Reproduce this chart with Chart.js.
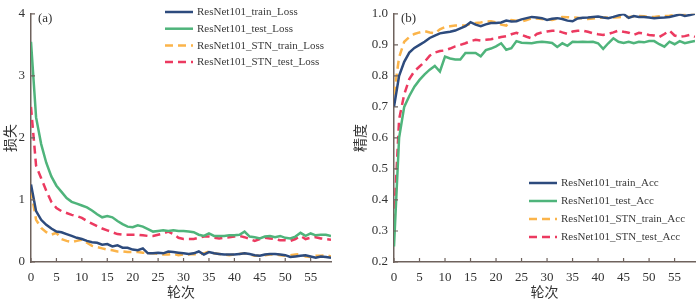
<!DOCTYPE html>
<html>
<head>
<meta charset="utf-8">
<script src="https://cdn.jsdelivr.net/npm/chart.js@4.4.1/dist/chart.umd.min.js"></script>
<style>
body { margin: 0; background: #fff; }
#wrap { position: relative; width: 700px; height: 299px; }
canvas { position: absolute; top: 0; }
</style>
</head>
<body>
<div id="wrap">
  <canvas id="lossChart" width="350" height="299" style="left:0"></canvas>
  <canvas id="accChart" width="350" height="299" style="left:350px"></canvas>
</div>
<script>
var epochs = [0,1,2,3,4,5,6,7,8,9,10,11,12,13,14,15,16,17,18,19,20,21,22,23,24,25,26,27,28,29,
  30,31,32,33,34,35,36,37,38,39,40,41,42,43,44,45,46,47,48,49,50,51,52,53,54,55,56,57,58,59];
var xTickValues = [0,5,10,15,20,25,30,35,40,45,50,55];

var lossNames = ['ResNet101_train_Loss', 'ResNet101_test_Loss', 'ResNet101_STN_train_Loss', 'ResNet101_STN_test_Loss'];
var accNames = ['ResNet101_train_Acc', 'ResNet101_test_Acc', 'ResNet101_STN_train_Acc', 'ResNet101_STN_test_Acc'];

var trainLoss = [1.25,0.82,0.68,0.60,0.54,0.49,0.48,0.45,0.42,0.39,
  0.37,0.34,0.32,0.31,0.28,0.29,0.25,0.27,0.23,0.23,
  0.20,0.19,0.22,0.14,0.14,0.15,0.14,0.17,0.16,0.15,
  0.14,0.13,0.14,0.17,0.12,0.16,0.14,0.13,0.12,0.12,
  0.12,0.13,0.14,0.13,0.11,0.10,0.12,0.13,0.13,0.12,
  0.11,0.08,0.09,0.10,0.11,0.09,0.07,0.09,0.08,0.07];
var testLoss = [3.55,2.33,1.90,1.60,1.38,1.23,1.13,1.03,0.97,0.94,
  0.91,0.88,0.83,0.77,0.72,0.74,0.72,0.66,0.61,0.57,
  0.56,0.59,0.57,0.53,0.49,0.50,0.51,0.50,0.51,0.50,
  0.50,0.49,0.48,0.44,0.42,0.46,0.42,0.42,0.42,0.43,
  0.43,0.44,0.49,0.41,0.40,0.38,0.41,0.42,0.40,0.42,
  0.39,0.38,0.41,0.47,0.42,0.46,0.43,0.44,0.44,0.42];
var stnTrainLoss = [1.15,0.68,0.55,0.48,0.44,0.47,0.37,0.34,0.32,0.34,
  0.36,0.31,0.26,0.24,0.22,0.20,0.19,0.17,0.17,0.16,
  0.16,0.16,0.15,0.14,0.14,0.13,0.12,0.12,0.13,0.11,
  0.12,0.12,0.13,0.12,0.14,0.17,0.14,0.13,0.12,0.11,
  0.12,0.13,0.14,0.12,0.10,0.10,0.11,0.12,0.12,0.11,
  0.10,0.11,0.12,0.13,0.09,0.08,0.10,0.10,0.11,0.09];
var stnTestLoss = [2.50,1.55,1.35,1.15,0.97,0.87,0.82,0.79,0.76,0.74,
  0.71,0.66,0.62,0.58,0.54,0.51,0.48,0.45,0.44,0.44,
  0.44,0.44,0.43,0.42,0.42,0.44,0.46,0.49,0.45,0.39,
  0.37,0.37,0.37,0.39,0.41,0.41,0.39,0.38,0.39,0.40,
  0.41,0.42,0.40,0.37,0.34,0.37,0.39,0.38,0.37,0.35,
  0.35,0.34,0.37,0.42,0.37,0.39,0.40,0.38,0.37,0.36];

var trainAcc = [0.70,0.80,0.845,0.875,0.89,0.90,0.91,0.922,0.93,0.937,
  0.94,0.942,0.946,0.953,0.96,0.973,0.965,0.96,0.966,0.97,
  0.97,0.972,0.978,0.975,0.976,0.982,0.986,0.99,0.988,0.986,
  0.98,0.984,0.986,0.983,0.978,0.976,0.985,0.987,0.988,0.99,
  0.991,0.988,0.986,0.99,0.995,0.999,0.987,0.993,0.99,0.99,
  0.988,0.986,0.987,0.988,0.99,0.994,0.998,0.993,0.996,1.0];
var testAcc = [0.25,0.60,0.70,0.735,0.765,0.787,0.805,0.82,0.832,0.814,
  0.862,0.856,0.853,0.853,0.874,0.874,0.874,0.863,0.883,0.888,
  0.895,0.905,0.884,0.889,0.912,0.907,0.906,0.905,0.908,0.91,
  0.908,0.906,0.893,0.905,0.897,0.91,0.909,0.91,0.909,0.91,
  0.905,0.887,0.905,0.921,0.91,0.906,0.91,0.905,0.91,0.908,
  0.912,0.912,0.902,0.894,0.91,0.902,0.912,0.905,0.909,0.912];
var stnTrainAcc = [0.74,0.86,0.91,0.925,0.935,0.94,0.944,0.94,0.937,0.95,
  0.957,0.96,0.962,0.962,0.962,0.968,0.97,0.972,0.975,0.976,
  0.972,0.965,0.962,0.98,0.978,0.975,0.98,0.986,0.985,0.983,
  0.982,0.98,0.985,0.99,0.989,0.988,0.987,0.985,0.983,0.985,
  0.987,0.988,0.988,0.988,0.989,0.99,0.99,0.991,0.993,0.992,
  0.99,0.99,0.992,0.993,0.994,0.996,0.997,0.998,0.999,1.0];
var stnTestAcc = [0.33,0.66,0.74,0.79,0.815,0.83,0.845,0.865,0.875,0.88,
  0.882,0.888,0.895,0.90,0.905,0.912,0.916,0.914,0.916,0.918,
  0.921,0.925,0.928,0.934,0.939,0.932,0.926,0.921,0.935,0.94,
  0.943,0.945,0.946,0.94,0.935,0.943,0.945,0.946,0.942,0.937,
  0.934,0.932,0.935,0.94,0.946,0.942,0.939,0.932,0.939,0.936,
  0.932,0.93,0.925,0.935,0.946,0.93,0.926,0.928,0.932,0.926];

var colors = ['#2d4b7d', '#4fb47b', '#fbb44a', '#ec3a60'];
var dashes = [[], [], [8, 5], [8, 5]];
var axisColor = '#6e625d';
var serif = '"Liberation Serif", "Times New Roman", serif';
var cjk = '"Noto Sans CJK SC", sans-serif';

function points(vals){
  return vals.map(function(v, i){ return {x: epochs[i], y: v}; });
}

function makeSets(names, series){
  return names.map(function(n, i){
    return {
      label: n,
      data: points(series[i]),
      borderColor: colors[i],
      borderWidth: 2.5,
      borderDash: dashes[i],
      pointRadius: 0,
      fill: false,
      tension: 0
    };
  });
}

// ticks pointing into the plot
var innerTicks = {
  id: 'innerTicks',
  afterDraw: function(chart){
    var ctx = chart.ctx, a = chart.chartArea;
    ctx.save();
    ctx.strokeStyle = axisColor;
    ctx.lineWidth = 1.2;
    ctx.beginPath();
    chart.scales.x.ticks.forEach(function(t){
      var px = chart.scales.x.getPixelForValue(t.value);
      ctx.moveTo(px, a.bottom); ctx.lineTo(px, a.bottom - 4);
    });
    chart.scales.y.ticks.forEach(function(t){
      var py = chart.scales.y.getPixelForValue(t.value);
      ctx.moveTo(a.left, py); ctx.lineTo(a.left + 4, py);
    });
    ctx.stroke();
    ctx.restore();
  }
};

var sideLegend = {
  id: 'sideLegend',
  afterDraw: function(chart, args, opts){
    var ctx = chart.ctx;
    ctx.save();
    ctx.font = '11px ' + serif;
    ctx.textBaseline = 'middle';
    chart.data.datasets.forEach(function(ds, i){
      var y = opts.y + i * opts.gap;
      ctx.strokeStyle = ds.borderColor;
      ctx.lineWidth = 2.5;
      ctx.setLineDash(ds.borderDash);
      ctx.beginPath(); ctx.moveTo(opts.x, y); ctx.lineTo(opts.x + 28, y); ctx.stroke();
      ctx.setLineDash([]);
      ctx.fillStyle = '#3a3a3a';
      ctx.fillText(ds.label, opts.x + 32, y + 0.5);
    });
    // panel letter
    ctx.font = '13px ' + serif;
    ctx.textBaseline = 'middle';
    ctx.fillStyle = '#333';
    ctx.fillText(opts.tag, chart.chartArea.left + 7, chart.chartArea.top + 5);
    ctx.restore();
  }
};

function makeOptions(yMin, yMax, yStep, yTitle, yWidth, padRight, fmt, leg){
  return {
    responsive: false,
    animation: false,
    layout: { padding: { top: 7, right: padRight, left: 0, bottom: 0 } },
    plugins: { legend: { display: false }, tooltip: { enabled: false }, sideLegend: leg },
    scales: {
      x: {
        type: 'linear', min: 0, max: 59,
        afterFit: function(s){ s.height = 37; },
        afterBuildTicks: function(s){
          s.ticks = xTickValues.map(function(v){ return {value: v}; });
        },
        grid: { display: false, drawTicks: false },
        border: { display: true, color: axisColor, width: 1.5 },
        ticks: { padding: 8, color: '#333', font: { family: serif, size: 13 } },
        title: { display: true, text: '轮次', color: '#333', padding: 0,
          font: { family: cjk, size: 14, lineHeight: 1 } }
      },
      y: {
        min: yMin, max: yMax,
        afterFit: function(s){ s.width = yWidth; },
        grid: { display: false, drawTicks: false },
        border: { display: true, color: axisColor, width: 1.5 },
        ticks: { stepSize: yStep, padding: 6, color: '#333', font: { family: serif, size: 13 },
          callback: fmt },
        title: { display: true, text: yTitle, color: '#333', padding: { top: 3, bottom: 0 },
          font: { family: cjk, size: 14, lineHeight: 1 } }
      }
    }
  };
}

Chart.register(innerTicks, sideLegend);

new Chart(document.getElementById('lossChart'), {
  type: 'line',
  data: { datasets: makeSets(lossNames, [trainLoss, testLoss, stnTrainLoss, stnTestLoss]) },
  options: makeOptions(0, 4, 1, '损失', 31, 19,
    function(v){ return v; }, { x: 165, y: 12, gap: 16.7, tag: '(a)' })
});

new Chart(document.getElementById('accChart'), {
  type: 'line',
  data: { datasets: makeSets(accNames, [trainAcc, testAcc, stnTrainAcc, stnTestAcc]) },
  options: makeOptions(0.2, 1.0, 0.1, '精度', 44, 5,
    function(v){ return v.toFixed(1); }, { x: 179, y: 183, gap: 18, tag: '(b)' })
});
</script>
</body>
</html>
